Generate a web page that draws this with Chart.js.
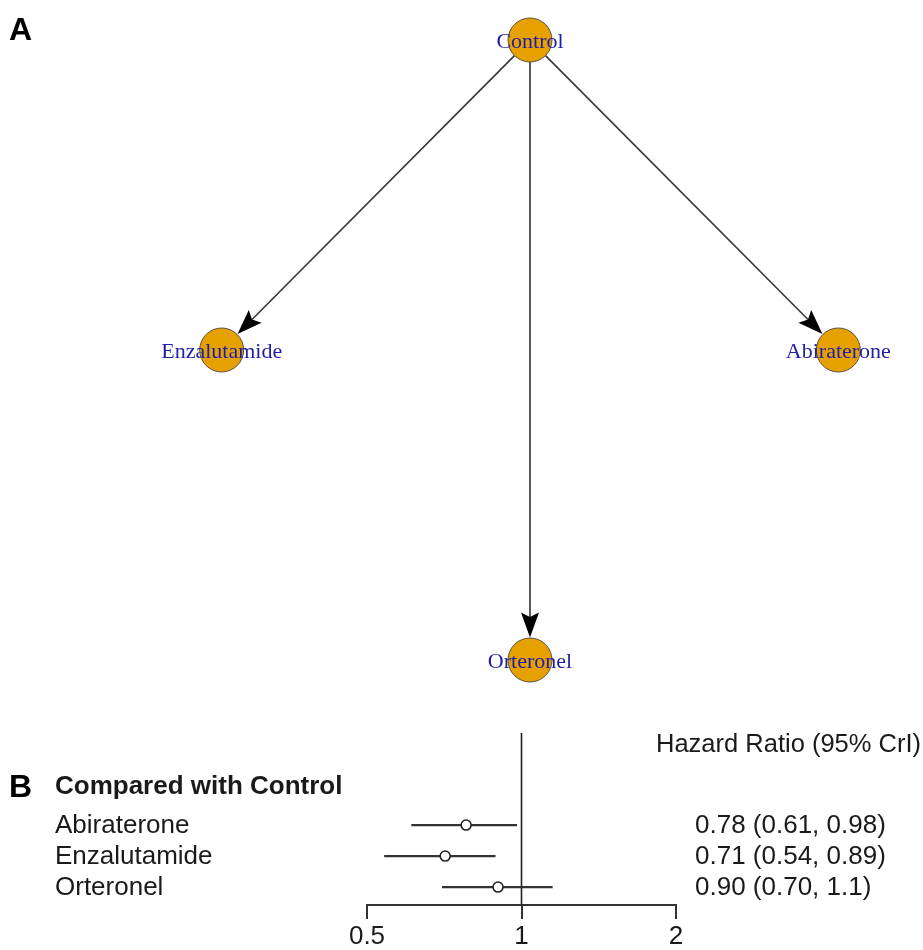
<!DOCTYPE html>
<html>
<head>
<meta charset="utf-8">
<script src="https://cdn.jsdelivr.net/npm/chart.js@4.4.1/dist/chart.umd.min.js"></script>
<style>
  html, body { margin: 0; padding: 0; background: #ffffff; }
  #wrap { position: relative; width: 923px; height: 950px; overflow: hidden; }
  #net { position: absolute; left: 0; top: 0; }
  #forest { position: absolute; left: 0; top: 705px; }
</style>
</head>
<body>
<div id="wrap">
  <canvas id="net" width="923" height="700"></canvas>
  <canvas id="forest" width="923" height="250"></canvas>
</div>
<script>
// ---------- Network (panel A) ----------
const nodeNames = ['Control', 'Enzalutamide', 'Abiraterone', 'Orteronel'];
const layoutX = [0, -1, 1, 0];
const layoutY = [1, 0, 0, -1];
const edgeFrom = [0, 0, 0];
const edgeTo = [1, 2, 3];

// ---------- Forest plot (panel B) ----------
const treatments = ['Abiraterone', 'Enzalutamide', 'Orteronel'];
const rowPos = [3, 2, 1];
const hazardRatio = [0.78, 0.71, 0.90];
const ciLower = [0.61, 0.54, 0.70];
const ciUpper = [0.98, 0.89, 1.15];
const hrLabels = ['0.78 (0.61, 0.98)', '0.71 (0.54, 0.89)', '0.90 (0.70, 1.1)'];
const xTicks = [0.5, 1, 2];
const xTickLabels = ['0.5', '1', '2'];

const NODE_R = 22;

const networkPlugin = {
  id: 'networkPlugin',
  beforeDatasetsDraw(chart) {
    const ctx = chart.ctx;
    const xs = chart.scales.x, ys = chart.scales.y;
    ctx.save();
    for (let k = 0; k < edgeFrom.length; k++) {
      const a = edgeFrom[k], b = edgeTo[k];
      const x1 = xs.getPixelForValue(layoutX[a]), y1 = ys.getPixelForValue(layoutY[a]);
      const x2 = xs.getPixelForValue(layoutX[b]), y2 = ys.getPixelForValue(layoutY[b]);
      const dx = x2 - x1, dy = y2 - y1;
      const len = Math.hypot(dx, dy);
      const ux = dx / len, uy = dy / len;
      const nx = -uy, ny = ux;
      const sx = x1 + ux * NODE_R, sy = y1 + uy * NODE_R;
      const tx = x2 - ux * (NODE_R + 0.5), ty = y2 - uy * (NODE_R + 0.5);
      const L = 25, W = 9;
      const notchX = tx - ux * L * 0.82, notchY = ty - uy * L * 0.82;
      ctx.strokeStyle = '#3a3a3a';
      ctx.lineWidth = 1.7;
      ctx.beginPath();
      ctx.moveTo(sx, sy);
      ctx.lineTo(notchX, notchY);
      ctx.stroke();
      ctx.fillStyle = '#000000';
      ctx.beginPath();
      ctx.moveTo(tx, ty);
      ctx.lineTo(tx - ux * L + nx * W, ty - uy * L + ny * W);
      ctx.lineTo(notchX, notchY);
      ctx.lineTo(tx - ux * L - nx * W, ty - uy * L - ny * W);
      ctx.closePath();
      ctx.fill();
    }
    ctx.restore();
  },
  afterDatasetsDraw(chart) {
    const ctx = chart.ctx;
    const xs = chart.scales.x, ys = chart.scales.y;
    ctx.save();
    ctx.font = "22px 'Liberation Serif', 'DejaVu Serif', serif";
    ctx.fillStyle = '#1e1ea6';
    ctx.textAlign = 'center';
    ctx.textBaseline = 'middle';
    for (let i = 0; i < nodeNames.length; i++) {
      ctx.fillText(nodeNames[i], xs.getPixelForValue(layoutX[i]), ys.getPixelForValue(layoutY[i]) + 2);
    }
    ctx.font = "bold 32px 'Liberation Sans', Arial, sans-serif";
    ctx.fillStyle = '#000000';
    ctx.textAlign = 'left';
    ctx.textBaseline = 'alphabetic';
    ctx.fillText('A', 9, 40);
    ctx.restore();
  }
};

new Chart(document.getElementById('net'), {
  type: 'scatter',
  data: {
    datasets: [{
      data: nodeNames.map((n, i) => ({ x: layoutX[i], y: layoutY[i] })),
      pointRadius: NODE_R,
      pointHoverRadius: NODE_R,
      backgroundColor: '#E6A000',
      borderColor: '#5a5040',
      borderWidth: 1
    }]
  },
  options: {
    responsive: false,
    animation: false,
    events: [],
    layout: { autoPadding: false, padding: { left: 160, right: 23, top: 9, bottom: 9 } },
    plugins: { legend: { display: false }, tooltip: { enabled: false } },
    scales: {
      x: { type: 'linear', min: -1.2, max: 1.2, display: false },
      y: { type: 'linear', min: -1.1, max: 1.1, display: false }
    }
  },
  plugins: [networkPlugin]
});

const forestText = {
  id: 'forestText',
  afterDatasetsDraw(chart) {
    const ctx = chart.ctx;
    const ys = chart.scales.y;
    ctx.save();
    ctx.fillStyle = '#1a1a1a';
    ctx.textBaseline = 'middle';
    ctx.textAlign = 'left';
    ctx.font = "26px 'Liberation Sans', Arial, sans-serif";
    for (let i = 0; i < treatments.length; i++) {
      const y = ys.getPixelForValue(rowPos[i]);
      ctx.fillText(treatments[i], 55, y + 1);
      ctx.fillText(hrLabels[i], 695, y + 1);
    }
    ctx.font = "25.5px 'Liberation Sans', Arial, sans-serif";
    ctx.fillText('Hazard Ratio (95% CrI)', 656, ys.getPixelForValue(5.58));
    ctx.font = "bold 26px 'Liberation Sans', Arial, sans-serif";
    ctx.fillText('Compared with Control', 55, ys.getPixelForValue(4.23));
    ctx.fillStyle = '#000000';
    ctx.font = "bold 32px 'Liberation Sans', Arial, sans-serif";
    ctx.fillText('B', 9, ys.getPixelForValue(4.23) + 1);
    ctx.restore();
  }
};

const ciDatasets = treatments.map((t, i) => ({
  label: t,
  data: [{ x: ciLower[i], y: rowPos[i] }, { x: ciUpper[i], y: rowPos[i] }],
  showLine: true,
  borderColor: '#333333',
  borderWidth: 2.2,
  pointRadius: 0,
  order: 2
}));

new Chart(document.getElementById('forest'), {
  type: 'scatter',
  data: {
    datasets: [
      {
        label: 'ref',
        data: [{ x: 1, y: 0.42 }, { x: 1, y: 5.97 }],
        showLine: true,
        borderColor: '#222222',
        borderWidth: 1.6,
        pointRadius: 0,
        order: 3
      },
      ...ciDatasets,
      {
        label: 'HR',
        data: treatments.map((t, i) => ({ x: hazardRatio[i], y: rowPos[i] })),
        pointRadius: 5,
        pointBackgroundColor: '#ffffff',
        pointBorderColor: '#222222',
        pointBorderWidth: 1.6,
        order: 1
      }
    ]
  },
  options: {
    responsive: false,
    animation: false,
    events: [],
    layout: { autoPadding: false, padding: { left: 367, right: 247, top: 28, bottom: 0 } },
    plugins: { legend: { display: false }, tooltip: { enabled: false } },
    scales: {
      x: {
        type: 'logarithmic',
        min: 0.5,
        max: 2,
        afterBuildTicks(scale) { scale.ticks = xTicks.map(v => ({ value: v })); },
        ticks: {
          autoSkip: false,
          maxRotation: 0,
          padding: 5,
          color: '#1a1a1a',
          font: { family: "'Liberation Sans', Arial, sans-serif", size: 26, lineHeight: 1 },
          callback: (v) => { const i = xTicks.indexOf(v); return i >= 0 ? xTickLabels[i] : ''; }
        },
        grid: { drawOnChartArea: false, drawTicks: true, tickLength: 14, color: '#333333', lineWidth: 2 },
        border: { display: true, color: '#333333', width: 2 }
      },
      y: { type: 'linear', min: 0.42, max: 5.97, display: false }
    }
  },
  plugins: [forestText]
});
</script>
</body>
</html>
